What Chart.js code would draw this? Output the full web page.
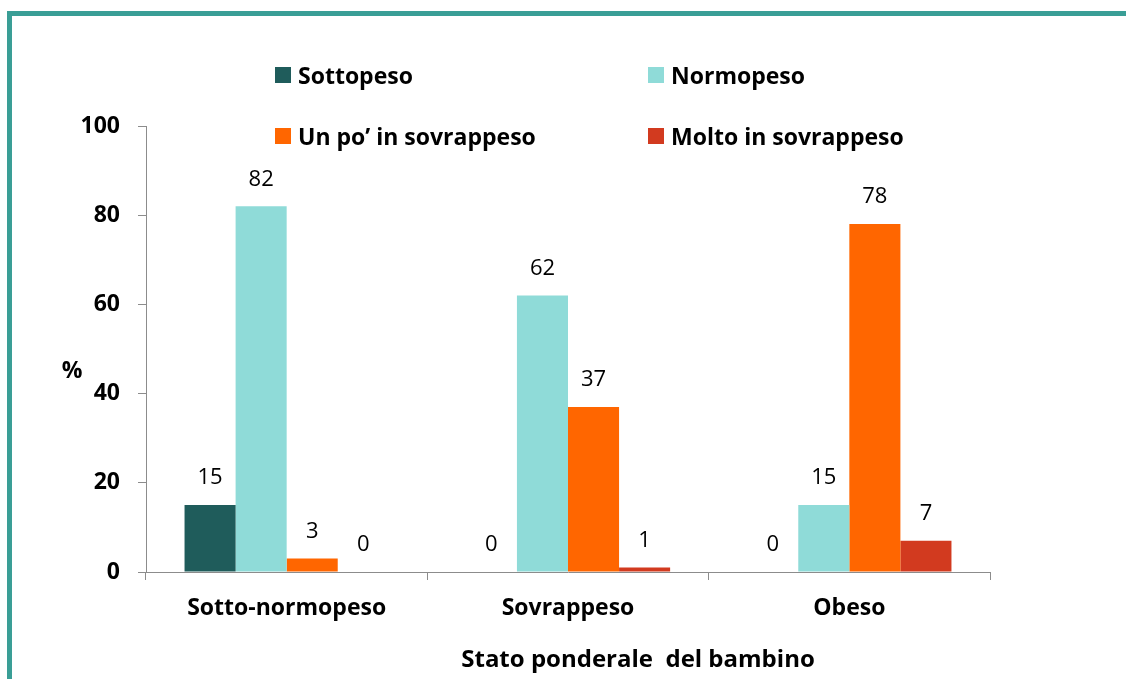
<!DOCTYPE html>
<html lang="it">
<head>
    <meta charset="UTF-8">
    <title>Stato ponderale del bambino</title>
    <script src="https://cdn.jsdelivr.net/npm/chart.js"></script>
    <style>
        html, body { margin: 0; padding: 0; background: #fff; overflow: hidden; }
        #wrap { position: relative; width: 1126px; height: 679px; }
        #frame { position: absolute; left: 7px; top: 11px; width: 1200px; height: 800px;
                 border-left: 5px solid #3A9E96; border-top: 5px solid #3A9E96; }
        #legend { position: absolute; left: 0; top: 0; font-family: "Open Sans", sans-serif;
                  font-weight: bold; font-size: 23px; color: #000; }
        .item { position: absolute; white-space: nowrap; }
        .item span.box { position: absolute; width: 16px; height: 16px; left: 0; top: 9px; }
        .item span.lbl { position: absolute; left: 23px; top: 0; line-height: 34px; }
        canvas { position: absolute; left: 0; top: 0; }
    </style>
</head>
<body>
<div id="wrap">
    <div id="frame"></div>
    <canvas id="grafico" width="1126" height="679"></canvas>
    <div id="legend"></div>
</div>
<script>
    // Dati
    const categorie = ['Sotto-normopeso', 'Sovrappeso', 'Obeso'];
    const serie = ['Sottopeso', 'Normopeso', 'Un po\u2019 in sovrappeso', 'Molto in sovrappeso'];
    const sottopeso = [15, 0, 0];
    const normopeso = [82, 62, 15];
    const unPoSovrappeso = [3, 37, 78];
    const moltoSovrappeso = [0, 1, 7];
    const tickY = [0, 20, 40, 60, 80, 100];
    const colori = ['#1F5C5B', '#8FDBD8', '#FF6600', '#D23A1F'];
    const titoloX = 'Stato ponderale  del bambino';

    const valori = [sottopeso, normopeso, unPoSovrappeso, moltoSovrappeso];

    // Legenda a due colonne
    const legendPos = [[275, 58], [648, 58], [275, 119], [648, 119]];
    const legend = document.getElementById('legend');
    serie.forEach((nome, i) => {
        const d = document.createElement('div');
        d.className = 'item';
        d.style.left = legendPos[i][0] + 'px';
        d.style.top = legendPos[i][1] + 'px';
        d.innerHTML = '<span class="box" style="background:' + colori[i] + '"></span><span class="lbl">' + nome + '</span>';
        legend.appendChild(d);
    });

    // Etichette sopra le barre, "%" e titolo asse x
    const etichette = {
        id: 'etichette',
        afterDatasetsDraw(chart) {
            const ctx = chart.ctx;
            ctx.save();
            ctx.fillStyle = '#000';
            ctx.textAlign = 'center';
            ctx.textBaseline = 'middle';
            ctx.font = '22px "Open Sans", sans-serif';
            chart.data.datasets.forEach((ds, i) => {
                chart.getDatasetMeta(i).data.forEach((bar, j) => {
                    ctx.fillText(String(ds.data[j]), bar.x, bar.y - 27);
                });
            });
            const y = chart.scales.y;
            ctx.font = 'bold 23px "Open Sans", sans-serif';
            ctx.fillText('%', chart.chartArea.left - 74, y.getPixelForValue(45));
            const area = chart.chartArea;
            ctx.font = 'bold 24px "Open Sans", sans-serif';
            ctx.fillText(titoloX, (area.left + area.right) / 2 + 70, chart.height - 19);
            ctx.restore();
        }
    };

    const ctx = document.getElementById('grafico').getContext('2d');
    new Chart(ctx, {
        type: 'bar',
        data: {
            labels: categorie,
            datasets: serie.map((nome, i) => ({
                label: nome,
                data: valori[i],
                backgroundColor: colori[i],
                borderWidth: 0,
                categoryPercentage: 0.726,
                barPercentage: 1.0
            }))
        },
        options: {
            responsive: false,
            animation: false,
            layout: { padding: { left: 0, top: 126, right: 136, bottom: 0 } },
            plugins: { legend: { display: false }, tooltip: { enabled: false } },
            scales: {
                x: {
                    afterFit(scale) { scale.height = 107; },
                    grid: { drawOnChartArea: false, drawTicks: true, tickLength: 8, color: '#8c8c8c', offset: true },
                    border: { display: true, color: '#8c8c8c' },
                    ticks: { color: '#000', padding: 15, font: { family: '"Open Sans", sans-serif', size: 23, weight: 'bold' } }
                },
                y: {
                    min: 0,
                    max: 100,
                    afterFit(scale) { scale.width = 146; },
                    afterBuildTicks(scale) { scale.ticks = tickY.map(v => ({ value: v })); },
                    grid: { drawOnChartArea: false, drawTicks: true, tickLength: 8, color: '#8c8c8c' },
                    border: { display: true, color: '#8c8c8c' },
                    ticks: { color: '#000', padding: 18, font: { family: '"Open Sans", sans-serif', size: 23, weight: 'bold' } }
                }
            }
        },
        plugins: [etichette]
    });
</script>
</body>
</html>
